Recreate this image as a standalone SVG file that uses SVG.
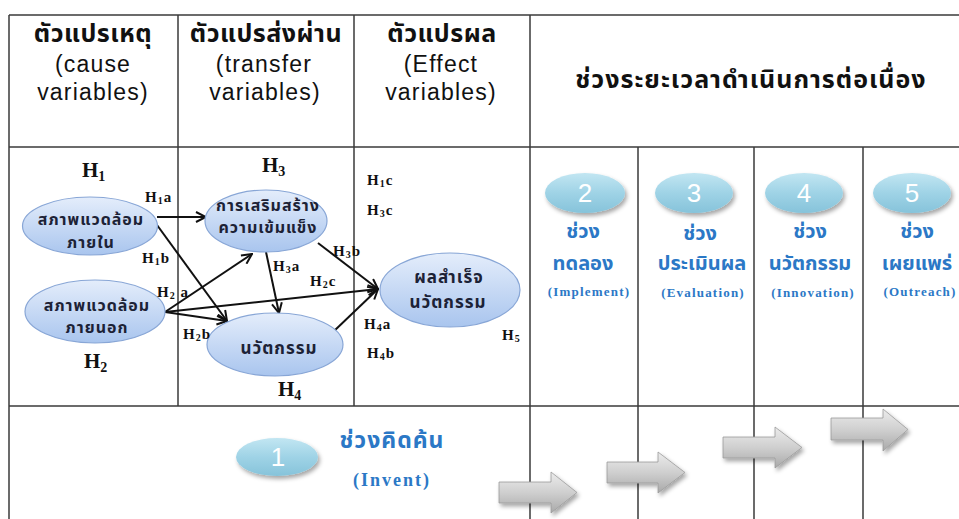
<svg xmlns="http://www.w3.org/2000/svg" width="959" height="519" viewBox="0 0 959 519">
<defs>
  <linearGradient id="gNode" x1="0" y1="0" x2="0" y2="1">
    <stop offset="0" stop-color="#e4edfb"/>
    <stop offset="1" stop-color="#a9c5ee"/>
  </linearGradient>
  <linearGradient id="gNum" x1="0" y1="0" x2="0" y2="1">
    <stop offset="0" stop-color="#c2e6f2"/>
    <stop offset="0.5" stop-color="#9fd3e6"/>
    <stop offset="1" stop-color="#86c3da"/>
  </linearGradient>
  <linearGradient id="gArr" x1="0" y1="0" x2="0" y2="1">
    <stop offset="0" stop-color="#ececec"/>
    <stop offset="0.5" stop-color="#cfcfcf"/>
    <stop offset="1" stop-color="#a9a9a9"/>
  </linearGradient>
  <marker id="ah" viewBox="0 0 12 12" refX="11" refY="6" markerWidth="12" markerHeight="12" markerUnits="userSpaceOnUse" orient="auto">
    <path d="M1,1 L11,6 L1,11" fill="none" stroke="#111" stroke-width="2"/>
  </marker>
  <filter id="sh" x="-20%" y="-20%" width="150%" height="160%">
    <feDropShadow dx="2" dy="3" stdDeviation="2" flood-color="#000" flood-opacity="0.35"/>
  </filter>
</defs>
<style>
  .grid line{stroke:#3a3a3a;stroke-width:1.5}
  .hd{font-family:"Noto Sans Thai","Tahoma","DejaVu Sans",sans-serif;font-weight:bold;font-size:25px;fill:#111;text-anchor:middle;letter-spacing:0.5px}
  .hden{font-family:"Liberation Sans",Arial,sans-serif;font-size:23px;fill:#111;text-anchor:middle;letter-spacing:1.2px}
  .node ellipse{fill:url(#gNode);stroke:#88a6d6;stroke-width:1.2}
  .nt{font-family:"Noto Sans Thai","Tahoma","DejaVu Sans",sans-serif;font-weight:bold;font-size:16px;fill:#1c2236;text-anchor:middle;letter-spacing:1px}
  .H{font-family:"Liberation Serif","Times New Roman",serif;font-weight:bold;fill:#111}
  .Hb{font-size:21px}
  .Hs{font-size:15px;letter-spacing:1px}
  .sub{font-size:10px}
  .subb{font-size:14px}
  .conn line{stroke:#111;stroke-width:2;marker-end:url(#ah)}
  .num ellipse{fill:url(#gNum);filter:url(#sh)}
  .numt{font-family:"Liberation Sans",Arial,sans-serif;font-size:26px;fill:#fff;text-anchor:middle}
  .bl{font-family:"Noto Sans Thai","Tahoma","DejaVu Sans",sans-serif;font-weight:bold;font-size:20px;fill:#2b78c6;text-anchor:middle}
  .ble{font-family:"Liberation Serif","Times New Roman",serif;font-weight:bold;font-size:13px;fill:#2b78c6;text-anchor:middle;letter-spacing:1.2px}
  .garr path{fill:url(#gArr);stroke:#9a9a9a;stroke-width:0.8;filter:url(#sh)}
</style>
<rect width="959" height="519" fill="#fff"/>

<g class="grid">
  <line x1="9" y1="15" x2="959" y2="15"/>
  <line x1="9" y1="15" x2="9" y2="519"/>
  <line x1="9" y1="147" x2="959" y2="147"/>
  <line x1="9" y1="406" x2="959" y2="406"/>
  <line x1="178" y1="15" x2="178" y2="406"/>
  <line x1="354" y1="15" x2="354" y2="406"/>
  <line x1="530" y1="15" x2="530" y2="519"/>
  <line x1="638" y1="147" x2="638" y2="519"/>
  <line x1="754" y1="147" x2="754" y2="519"/>
  <line x1="863" y1="147" x2="863" y2="519"/>
</g>

<g id="headers">
  <text class="hd" x="93" y="42">ตัวแปรเหตุ</text>
  <text class="hden" x="93" y="72">(cause</text>
  <text class="hden" x="93" y="100">variables)</text>
  <text class="hd" x="266" y="42">ตัวแปรส่งผ่าน</text>
  <text class="hden" x="264" y="72">(transfer</text>
  <text class="hden" x="265" y="100">variables)</text>
  <text class="hd" x="442" y="42">ตัวแปรผล</text>
  <text class="hden" x="441" y="72">(Effect</text>
  <text class="hden" x="441" y="100">variables)</text>
  <text class="hd" x="751" y="88" style="letter-spacing:1px">ช่วงระยะเวลาดำเนินการต่อเนื่อง</text>
</g>

<g class="conn" id="connectors">
  <line x1="157" y1="217" x2="206" y2="217"/>
  <line x1="157" y1="225" x2="227" y2="321"/>
  <line x1="165" y1="312" x2="252" y2="254"/>
  <line x1="165" y1="312" x2="227" y2="321"/>
  <line x1="165" y1="312" x2="378" y2="289"/>
  <line x1="266" y1="252" x2="279" y2="313"/>
  <line x1="318" y1="243" x2="378" y2="289"/>
  <line x1="333" y1="332" x2="378" y2="289"/>
</g>

<g class="node" id="n-inner">
  <ellipse cx="90" cy="226" rx="67.5" ry="29"/>
  <text class="nt" x="91" y="225">สภาพแวดล้อม</text>
  <text class="nt" x="91" y="248">ภายใน</text>
</g>
<g class="node" id="n-outer">
  <ellipse cx="95" cy="311.5" rx="70" ry="31.5"/>
  <text class="nt" x="97" y="311">สภาพแวดล้อม</text>
  <text class="nt" x="97" y="333">ภายนอก</text>
</g>
<g class="node" id="n-empower">
  <ellipse cx="266" cy="221" rx="61" ry="31"/>
  <text class="nt" x="268" y="211">การเสริมสร้าง</text>
  <text class="nt" x="268" y="233">ความเข้มแข็ง</text>
</g>
<g class="node" id="n-innov">
  <ellipse cx="275" cy="344.5" rx="68" ry="31.5"/>
  <text class="nt" x="279" y="354" style="font-size:17px">นวัตกรรม</text>
</g>
<g class="node" id="n-success">
  <ellipse cx="450" cy="290" rx="70" ry="37"/>
  <text class="nt" x="449" y="283" style="font-size:17px">ผลสำเร็จ</text>
  <text class="nt" x="448" y="308" style="font-size:17px">นวัตกรรม</text>
</g>

<g id="hlabels" class="H">
  <text class="Hb" x="82" y="177">H<tspan class="subb" dy="4">1</tspan></text>
  <text class="Hb" x="262" y="172">H<tspan class="subb" dy="4">3</tspan></text>
  <text class="Hb" x="84" y="368">H<tspan class="subb" dy="4">2</tspan></text>
  <text class="Hb" x="278" y="396">H<tspan class="subb" dy="4">4</tspan></text>
  <text class="Hs" x="145" y="202">H<tspan class="sub" dy="2">1</tspan><tspan dy="-2">a</tspan></text>
  <text class="Hs" x="142" y="263">H<tspan class="sub" dy="2">1</tspan><tspan dy="-2">b</tspan></text>
  <text class="Hs" x="157" y="297">H<tspan class="sub" dy="2">2</tspan><tspan dy="-2"> a</tspan></text>
  <text class="Hs" x="183" y="339">H<tspan class="sub" dy="2">2</tspan><tspan dy="-2">b</tspan></text>
  <text class="Hs" x="273" y="271">H<tspan class="sub" dy="2">3</tspan><tspan dy="-2">a</tspan></text>
  <text class="Hs" x="310" y="286">H<tspan class="sub" dy="2">2</tspan><tspan dy="-2">c</tspan></text>
  <text class="Hs" x="333" y="256">H<tspan class="sub" dy="2">3</tspan><tspan dy="-2">b</tspan></text>
  <text class="Hs" x="367" y="185">H<tspan class="sub" dy="2">1</tspan><tspan dy="-2">c</tspan></text>
  <text class="Hs" x="367" y="215">H<tspan class="sub" dy="2">3</tspan><tspan dy="-2">c</tspan></text>
  <text class="Hs" x="364" y="329">H<tspan class="sub" dy="2">4</tspan><tspan dy="-2">a</tspan></text>
  <text class="Hs" x="367" y="358">H<tspan class="sub" dy="2">4</tspan><tspan dy="-2">b</tspan></text>
  <text class="Hs" x="502" y="340">H<tspan class="sub" dy="2">5</tspan></text>
</g>

<g id="phase1" class="num">
  <ellipse cx="277" cy="457" rx="41" ry="19"/>
  <text class="numt" x="278" y="466">1</text>
  <text class="bl" x="392" y="448" style="font-size:23px;letter-spacing:1px">ช่วงคิดค้น</text>
  <text class="ble" x="392" y="486" style="font-size:18px;letter-spacing:2px">(Invent)</text>
</g>
<g id="phase2" class="num">
  <ellipse cx="585" cy="193" rx="40" ry="20"/>
  <text class="numt" x="585" y="202">2</text>
  <text class="bl" x="583" y="238">ช่วง</text>
  <text class="bl" x="583" y="270">ทดลอง</text>
  <text class="ble" x="589" y="296">(Implement)</text>
</g>
<g id="phase3" class="num">
  <ellipse cx="694" cy="193" rx="39" ry="20"/>
  <text class="numt" x="694" y="202">3</text>
  <text class="bl" x="700" y="240">ช่วง</text>
  <text class="bl" x="702" y="270">ประเมินผล</text>
  <text class="ble" x="703" y="297">(Evaluation)</text>
</g>
<g id="phase4" class="num">
  <ellipse cx="804" cy="193" rx="39" ry="20"/>
  <text class="numt" x="804" y="202">4</text>
  <text class="bl" x="810" y="238">ช่วง</text>
  <text class="bl" x="810" y="270">นวัตกรรม</text>
  <text class="ble" x="813" y="297">(Innovation)</text>
</g>
<g id="phase5" class="num">
  <ellipse cx="912" cy="193" rx="39" ry="20"/>
  <text class="numt" x="912" y="202">5</text>
  <text class="bl" x="917" y="238">ช่วง</text>
  <text class="bl" x="917" y="270">เผยแพร่</text>
  <text class="ble" x="920" y="296">(Outreach)</text>
</g>

<g id="grayarrows" class="garr">
  <path d="M499,482 H551 V472 L577,492.5 L551,513 V503 H499 Z"/>
  <path d="M607,462 H658 V452 L685,472.5 L658,493 V483 H607 Z"/>
  <path d="M723,437 H775 V427 L802,447.5 L775,468 V458 H723 Z"/>
  <path d="M831,418 H883 V409 L908,429.5 L883,451 V440 H831 Z"/>
</g>
</svg>
